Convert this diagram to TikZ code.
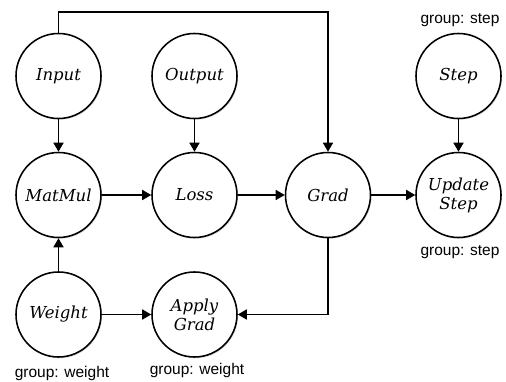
\documentclass[tikz,border=0pt]{standalone}
\usepackage{fontspec}
\newfontfamily\grpfont{Liberation Sans}
\newfontfamily\opfont{DejaVu Serif}
\usetikzlibrary{arrows.meta,shadows}
\tikzset{
        op/.style={circle, draw=black, line width=0.55mm, fill=white, minimum size=85pt, inner sep=0pt,
          align=center, font=\opfont\itshape\fontsize{16.5}{19}\selectfont,
          drop shadow={opacity=0.3, shadow xshift=1pt, shadow yshift=-1.2pt}},
        flow/.style={line width=0.55mm, -{Triangle[length=9pt, width=10pt]}},
        grp/.style={font=\grpfont\fontsize{15.5}{17}\selectfont, inner sep=0pt}
          }
\begin{document}
\begin{tikzpicture}[x=1pt, y=-1pt]
        \useasboundingbox (0,0) rectangle (506,382);
        % first row
        \node[op] (input) at (58.5,76) {Input};
        \node[op] (output) at (194.5,76) {Output};
        \node[op] (step) at (458.5,76) {Step};
        % second row
        \node[op] (matmul) at (58.5,195) {MatMul};
        \node[op] (loss) at (194.5,195) {Loss};
        \node[op] (grad) at (328,195) {Grad};
        \node[op] (update) at (458.5,195) {Update\\Step};
        % third row
        \node[op] (weight) at (58.5,314.5) {Weight};
        \node[op] (apply) at (194.5,314.5) {Apply\\Grad};
        % groups
        \node[grp] (gstep) at (460,20) {group: step};
        \node[grp] (gupdate) at (460,252) {group: step};
        \node[grp] (gweight) at (62,373) {group: weight};
        \node[grp] (gapply) at (197,370) {group: weight};
        % edges
        \draw[flow] (input) -- (matmul);
        \draw[flow] (output) -- (loss);
        \draw[flow] (step) -- (update);
        \draw[flow] (weight) -- (matmul);
        \draw[flow] (matmul) -- (loss);
        \draw[flow] (loss) -- (grad);
        \draw[flow] (grad) -- (update);
        \draw[flow] (weight) -- (apply);
        \draw[flow] (input.north) |- (328,12) -- (grad.north);
        \draw[flow] (grad.south) |- (apply.east);
      \end{tikzpicture}
\end{document}
